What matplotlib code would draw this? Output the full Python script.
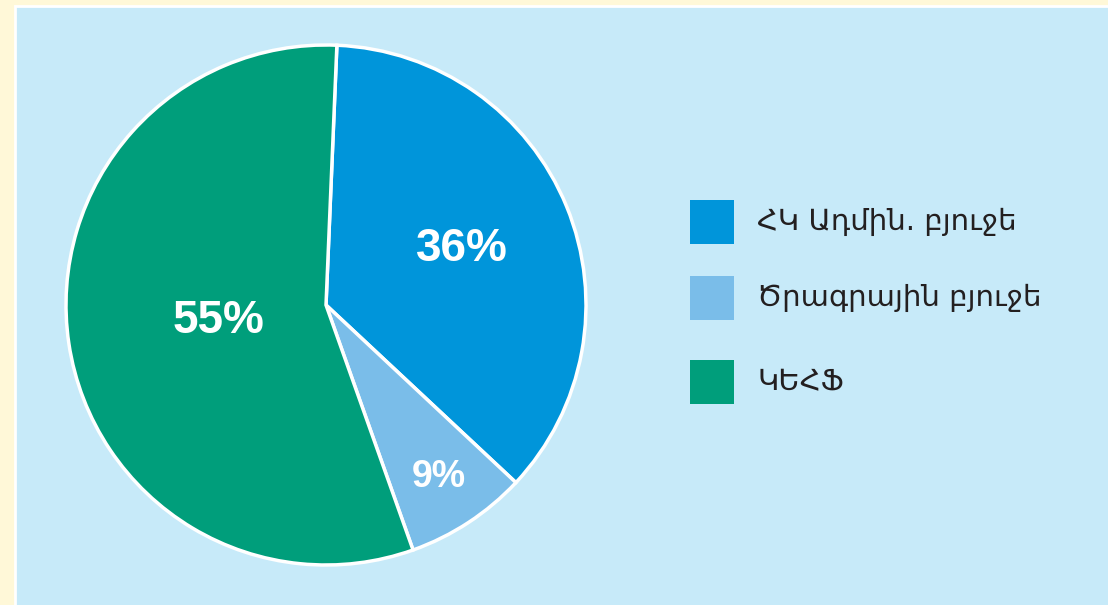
import matplotlib.pyplot as plt
from matplotlib.patches import Rectangle
import math as m

# shares as drawn (labels printed on the chart are rounded differently)
shares = [36.3, 7.6, 56.1]
pct_labels = ["36%", "9%", "55%"]
names = ["ՀԿ Ադմին. բյուջե", "Ծրագրային բյուջե", "ԿԵՀՖ"]
colors = ["#0095da", "#7abde9", "#009e7b"]

fig = plt.figure(figsize=(11.08, 6.05), dpi=100)
fig.patch.set_facecolor("#fff8d8")

# light blue panel with thin white edge
panel = Rectangle((15 / 1108, -0.01), 1.0, (605 - 6) / 605 + 0.01,
                  transform=fig.transFigure, facecolor="#c7eaf9",
                  edgecolor="white", linewidth=2, zorder=-5)
fig.patches.append(panel)

ax = fig.add_axes([66 / 1108, 40 / 605, 520 / 1108, 520 / 605])
ax.set_zorder(2)
wedges, _ = ax.pie(shares, colors=colors, startangle=87.6, counterclock=False,
                   radius=1, wedgeprops=dict(edgecolor="white", linewidth=2.5))
ax.set_xlim(-1, 1)
ax.set_ylim(-1, 1)
ax.set_aspect("equal")
ax.axis("off")

rads = [0.565, 0.79, 0.42]
sizes = [33, 27, 33]
for w, lab, r, s in zip(wedges, pct_labels, rads, sizes):
    ang = m.radians((w.theta1 + w.theta2) / 2)
    ax.text(r * m.cos(ang), r * m.sin(ang), lab, ha="center", va="center",
            color="white", fontsize=s, fontweight="bold",
            family=["Liberation Sans", "DejaVu Sans"])

# legend drawn by hand
rows = [222, 298, 382]
for y, name, c in zip(rows, names, colors):
    sq = Rectangle((690 / 1108, 1 - (y + 22) / 605), 44 / 1108, 44 / 605,
                   transform=fig.transFigure, facecolor=c, edgecolor="none")
    fig.patches.append(sq)
    fig.text(757 / 1108, 1 - y / 605, name, ha="left", va="center",
             fontsize=21, color="#231f20", family="DejaVu Sans")

fig.savefig("out.png", dpi=100, facecolor=fig.get_facecolor())
